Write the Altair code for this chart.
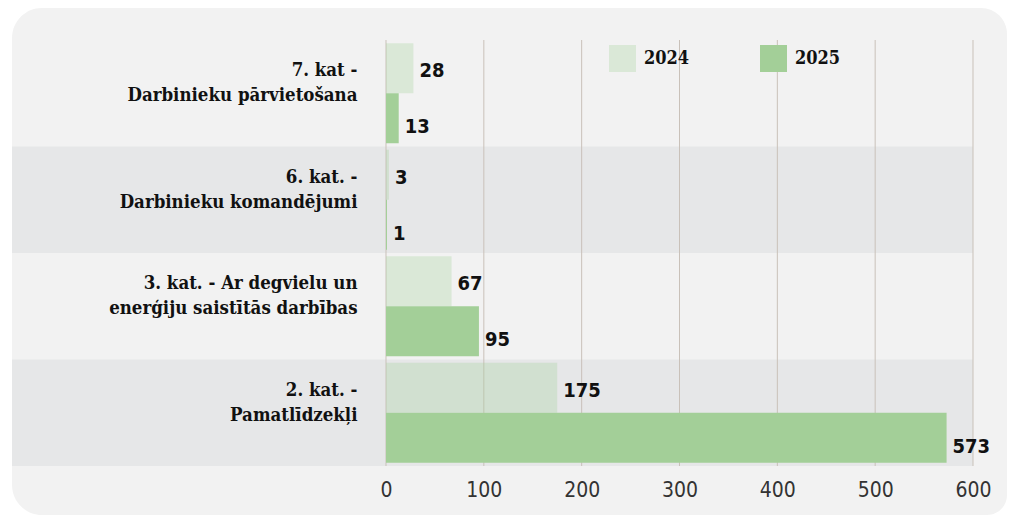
import altair as alt
import pandas as pd

categories = [
    "7. kat -|Darbinieku pārvietošana",
    "6. kat. -|Darbinieku komandējumi",
    "3. kat. - Ar degvielu un|enerģiju saistītās darbības",
    "2. kat. -|Pamatlīdzekļi",
]
years = ["2024", "2025"]
values_2024 = [28, 3, 67, 175]
values_2025 = [13, 1, 95, 573]
x_ticks = [0, 100, 200, 300, 400, 500, 600]
band_shade = [0, 1, 0, 1]

rows = []
for c, v in zip(categories, values_2024):
    rows.append({"cat": c, "year": "2024", "value": v})
for c, v in zip(categories, values_2025):
    rows.append({"cat": c, "year": "2025", "value": v})
bars_df = pd.DataFrame(rows)
bands_df = pd.DataFrame({"cat": categories, "shade": band_shade})
grid_df = pd.DataFrame({"value": x_ticks})
bg_df = pd.DataFrame({"k": [0]})

W, H = 587, 426
GREEN = "#a3cf98"
GREEN_LIGHT = "rgba(163,207,152,0.3)"
SERIF = "DejaVu Serif Condensed, DejaVu Serif"
NARROW = "DejaVu Sans Condensed, Liberation Sans Narrow, sans-serif"

xscale = alt.Scale(domain=[0, 600], nice=False, zero=True)
x_axis = alt.Axis(
    title=None, values=x_ticks, grid=False, domain=False, ticks=False,
    labelFont=NARROW, labelFontSize=21, labelColor="#333333", labelPadding=13,
    labelFontWeight="normal", labelFlush=False, labelOverlap=False, zindex=1,
)
y_axis = alt.Axis(
    title=None,
    domain=False,
    ticks=False,
    labelExpr="split(datum.label, '|')",
    labelFont=SERIF,
    labelFontWeight="bold",
    labelFontSize=18.5,
    labelColor="#111111",
    labelLineHeight=25,
    labelPadding=29,
    labelOffset=-23,
    labelLimit=400,
    labelAlign="right",
    zindex=1,
)
yscale = alt.Scale(paddingInner=0, paddingOuter=0)


def y_enc():
    return alt.Y("cat:N", sort=categories, scale=yscale, axis=y_axis)


def x_enc(field="value"):
    return alt.X(f"{field}:Q", scale=xscale, axis=x_axis)


bg = alt.Chart(bg_df).mark_rect(
    fill="#f2f2f2", cornerRadiusTopLeft=30, cornerRadiusBottomLeft=30,
    cornerRadiusTopRight=26, cornerRadiusBottomRight=20,
).encode(
    x=alt.value(-374), x2=alt.value(621), y=alt.value(-32), y2=alt.value(475)
)

bands = alt.Chart(bands_df).mark_rect().encode(
    y=y_enc(),
    x=alt.value(-374),
    x2=alt.value(W),
    color=alt.Color("shade:N", scale=alt.Scale(domain=[0, 1], range=["#f2f2f2", "#e6e7e8"]), legend=None),
)

grid = alt.Chart(grid_df).mark_rule(color="#c9c1b9", strokeWidth=1).encode(
    x=x_enc(),
    y=alt.value(0),
    y2=alt.value(H),
)

yoff = alt.YOffset("year:N", scale=alt.Scale(paddingInner=0, paddingOuter=0.065))

bars = alt.Chart(bars_df).mark_bar(cornerRadius=0).encode(
    x=x_enc(),
    y=y_enc(),
    yOffset=yoff,
    color=alt.Color(
        "year:N",
        scale=alt.Scale(domain=years, range=[GREEN_LIGHT, GREEN]),
        legend=alt.Legend(
            title=None, orient="none", legendX=223, legendY=5, direction="horizontal",
            symbolType="square", symbolSize=729, symbolStrokeWidth=0,
            labelFont=SERIF, labelFontWeight="bold",
            labelFontSize=18, labelColor="#111111", labelOffset=8, columnPadding=70,
        ),
    ),
)


def label_layer(year, dy):
    return alt.Chart(bars_df).transform_filter(
        alt.datum.year == year
    ).mark_text(
        align="left", baseline="middle", dx=6, dy=dy,
        font=NARROW, fontWeight="bold", fontSize=20, color="#111111",
    ).encode(
        x=x_enc(),
        y=y_enc(),
        yOffset=yoff,
        text=alt.Text("value:Q"),
    )


chart = alt.layer(
    bg, bands, grid, bars, label_layer("2024", 3), label_layer("2025", 9)
).resolve_scale(color="independent").properties(
    width=W, height=H,
    autosize=alt.AutoSizeParams(type="none"),
    padding={"left": 378, "top": 32, "right": 34, "bottom": 49},
    background="white",
).configure_view(stroke=None)

chart.save("out.html", embed_options={"renderer": "svg", "actions": False})
